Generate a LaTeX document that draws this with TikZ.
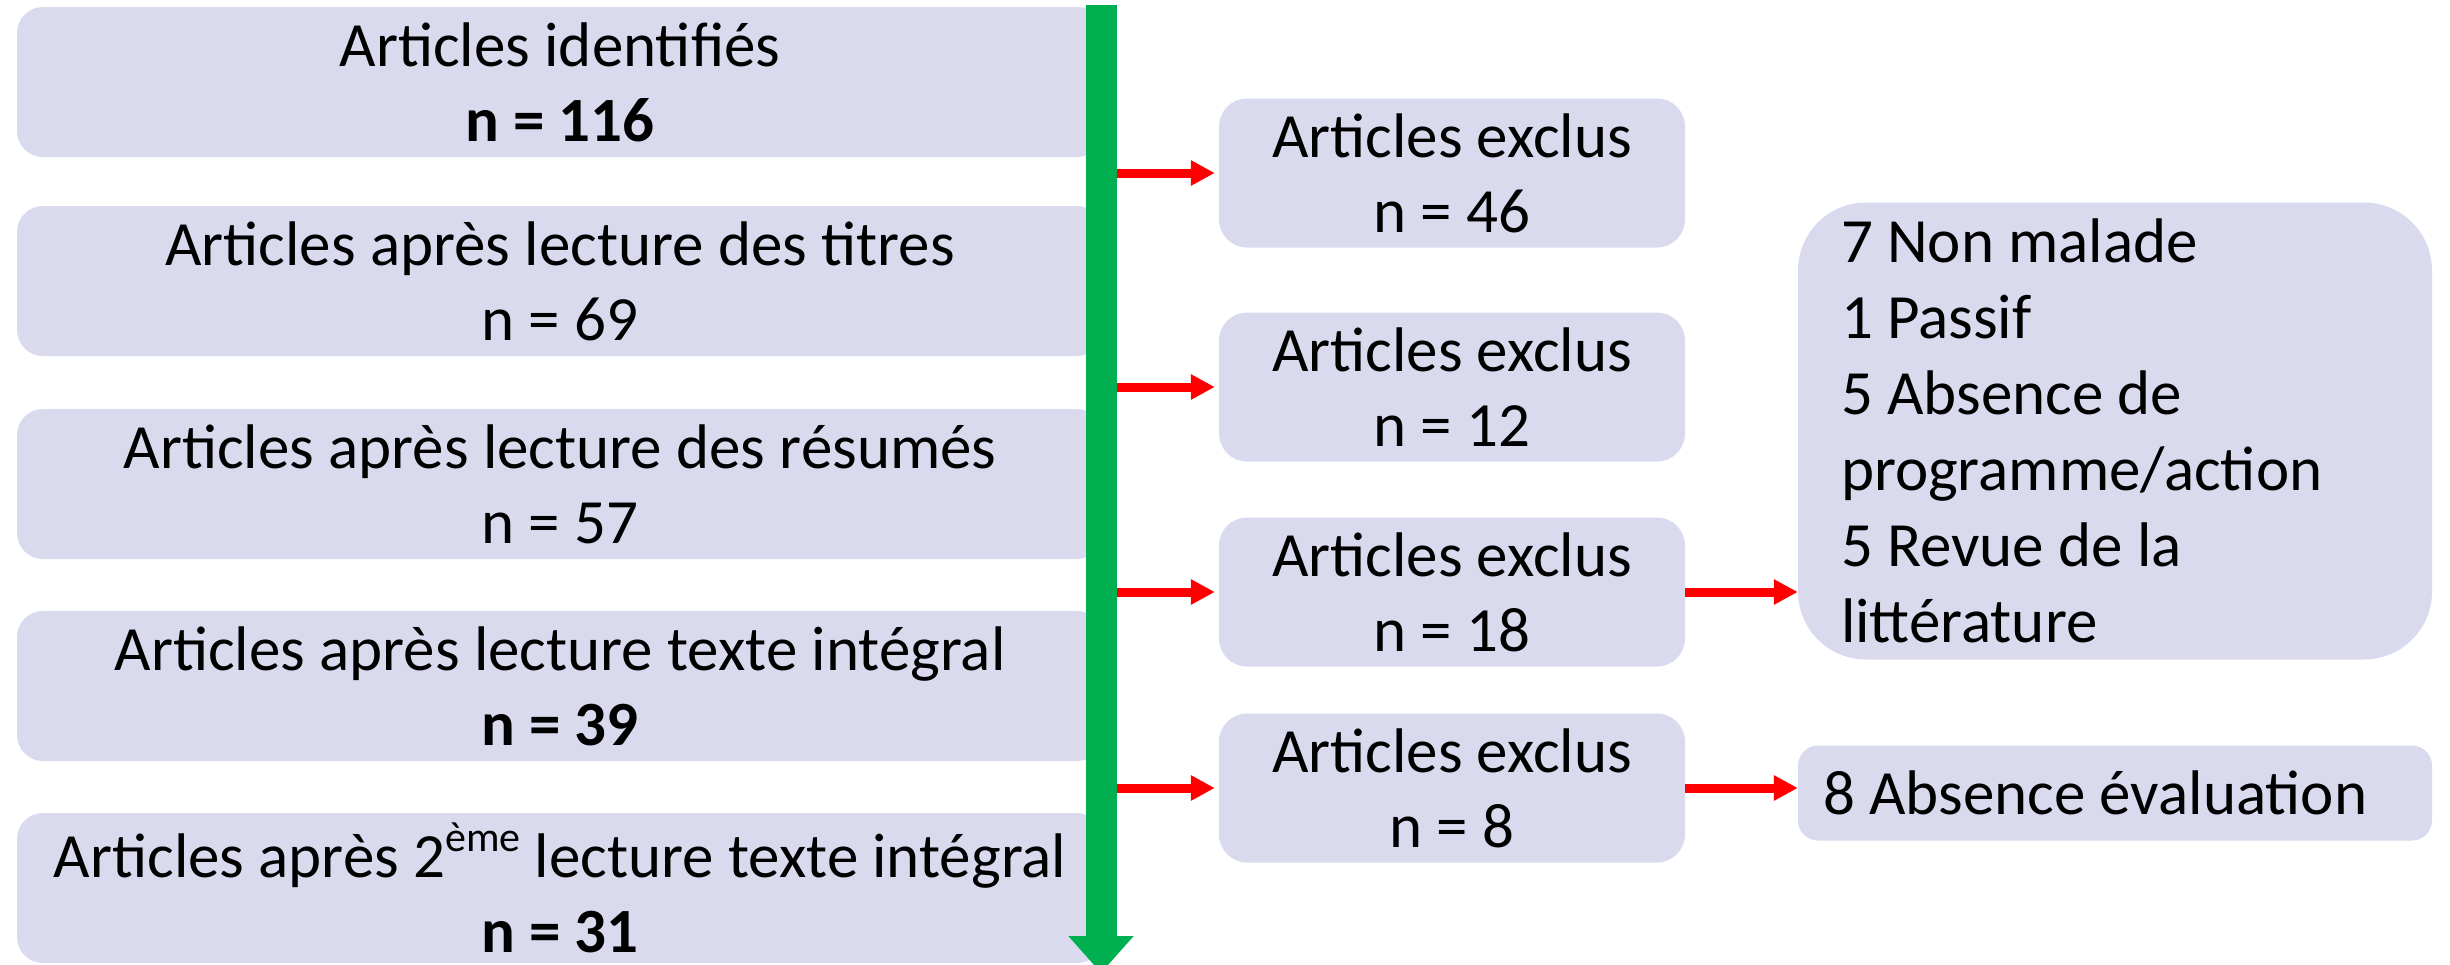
\documentclass[tikz,border=0pt]{standalone}
\usepackage{fontspec}
\setmainfont{Carlito}
\usepackage{xcolor}
\usepackage{tikz}
\usetikzlibrary{arrows.meta}
\definecolor{boxfill}{RGB}{218,218,238}
\definecolor{trunkgreen}{RGB}{0,176,80}
\tikzset{>={Triangle[width=24pt,length=24pt]}}
\tikzset{
  stage/.style={fill=boxfill, rounded corners=26pt, minimum width=1086pt, minimum height=150pt,
    inner sep=0pt, align=center, font=\fontsize{63}{75}\selectfont},
  excl/.style={fill=boxfill, rounded corners=28pt, minimum width=466pt, minimum height=149pt,
    inner sep=0pt, align=center, font=\fontsize{63}{75}\selectfont},
  reason/.style={fill=boxfill, inner ysep=0pt, align=flush left, font=\fontsize{63}{76}\selectfont},
  redarrow/.style={->, red, line width=9pt},
}
\newcommand{\ordsup}[1]{\raisebox{0.42em}{\fontsize{42}{42}\selectfont #1}}

\begin{document}
\begin{tikzpicture}[x=1pt,y=-1pt]
      \useasboundingbox (0,0) rectangle (2450,964);
      \clip (0,0) rectangle (2450,964);
      % selection steps
        \node[stage] (s1) at (560,82) {Articles identifiés\\\textbf{n = 116}};
        \node[stage] (s2) at (560,281) {Articles après lecture des titres\\n = 69};
        \node[stage] (s3) at (560,484) {Articles après lecture des résumés\\n = 57};
        \node[stage] (s4) at (560,686) {Articles après lecture texte intégral\\\textbf{n = 39}};
        \node[stage] (s5) at (560,888) {Articles après 2\ordsup{ème} lecture texte intégral\\\textbf{n = 31}};
      % exclusions
        \node[excl] (x1) at (1452,173) {Articles exclus\\n = 46};
        \node[excl] (x2) at (1452,387) {Articles exclus\\n = 12};
        \node[excl] (x3) at (1452,592) {Articles exclus\\n = 18};
        \node[excl] (x4) at (1452,788) {Articles exclus\\n = 8};
        \node[reason, text width=548pt, inner xsep=43pt, minimum height=457pt, rounded corners=68pt] (r1) at (2115,431)
          {7 Non malade\\1 Passif\\5 Absence de\\programme/action\\5 Revue de la\\littérature};
        \node[reason, text width=584pt, inner xsep=25pt, minimum height=95pt, rounded corners=20pt] (r2) at (2115,793)
          {8 Absence évaluation};
        \coordinate (t0) at (1101,5);
        \coordinate (t1) at (1101,973);
        \foreach \b in {x1,x2,x3,x4}
          \draw[redarrow, shorten >=4pt] (t0 |- \b.west) -- (\b.west);
        \draw[redarrow] (x3.east) -- (x3.east -| r1.west);
        \draw[redarrow] (x4.east) -- (x4.east -| r2.west);
        \draw[line width=31pt, trunkgreen, -{Triangle[width=63pt,length=37pt]}] (t0) -- (t1);
       \end{tikzpicture}
\end{document}
